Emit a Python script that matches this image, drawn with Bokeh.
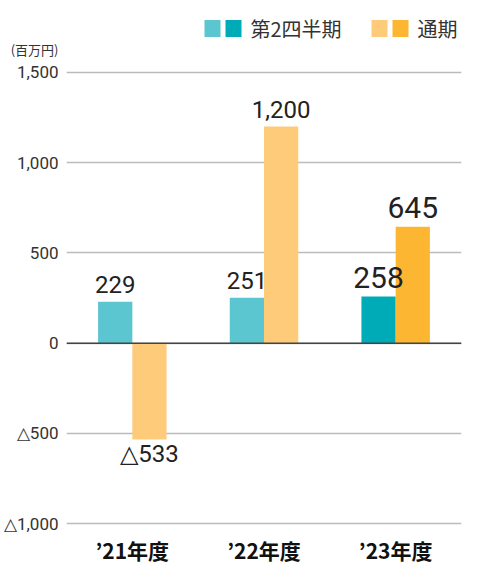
from bokeh.plotting import figure
from bokeh.layouts import column
from bokeh.models import ColumnDataSource, FactorRange, Range1d, FixedTicker, Span
from bokeh.transform import dodge
from bokeh.core.properties import value
from bokeh.embed import file_html
from bokeh.resources import INLINE

# ---- data ----
categories = ["’21年度", "’22年度", "’23年度"]
q2_values = [229, 251, 258]
full_values = [-533, 1200, 645]
series_names = ["第2四半期", "通期"]
y_ticks = [-1000, -500, 0, 500, 1000, 1500]
unit_label = "(百万円)"


def fmt(v):
    return ("△" if v < 0 else "") + f"{abs(v):,}"


# ---- styles ----
Q2_PAST, Q2_CUR = "#5BC5D0", "#00ABB8"
FY_PAST, FY_CUR = "#FDCB7A", "#FDB632"
NUM_FONT = "Roboto"
CJK_FONT = "Noto Sans CJK JP"
W = 489
HEAD_H = 60
MAIN_H = 525
BORDER_L, BORDER_R = 66, 28

n = len(categories)
last = [i == n - 1 for i in range(n)]


def offs(vals):
    out = []
    for v, l in zip(vals, last):
        half = 11.5 if l else 9
        out.append(-(8 + half) if v >= 0 else (6 + half))
    return out


src = ColumnDataSource(dict(
    cat=categories,
    q2=q2_values,
    full=full_values,
    q2_color=[Q2_CUR if l else Q2_PAST for l in last],
    full_color=[FY_CUR if l else FY_PAST for l in last],
    q2_text=[fmt(v) for v in q2_values],
    full_text=[fmt(v) for v in full_values],
    q2_off=offs(q2_values),
    full_off=offs(full_values),
    size=["30px" if l else "24px" for l in last],
))

# ---- header: legend + unit label (pixel-space decoration, x in page px) ----
h = figure(width=W, height=HEAD_H,
           x_range=Range1d(BORDER_L, W - BORDER_R), y_range=Range1d(HEAD_H, 0),
           x_axis_type=None,
           output_backend="svg", toolbar_location=None,
           min_border_left=BORDER_L, min_border_right=BORDER_R,
           min_border_top=0, min_border_bottom=0)
h.grid.visible = False
h.outline_line_color = None
h.background_fill_color = "white"
h.border_fill_color = "white"
# unit label drawn as the header's single y tick label
h.yaxis.ticker = FixedTicker(ticks=[49])
h.yaxis.major_label_overrides = {49: unit_label}
h.yaxis.axis_line_color = None
h.yaxis.major_tick_line_color = None
h.yaxis.minor_tick_line_color = None
h.yaxis.major_tick_in = 0
h.yaxis.major_tick_out = 0
h.yaxis.major_label_standoff = 8
h.yaxis.major_label_text_font = CJK_FONT
h.yaxis.major_label_text_font_size = "13px"
h.yaxis.major_label_text_color = "#333333"

legend_x = [204, 371]
legend_cols = [[Q2_PAST, Q2_CUR], [FY_PAST, FY_CUR]]
sw_x, sw_c = [], []
for x0, cols in zip(legend_x, legend_cols):
    for k, c in enumerate(cols):
        sw_x.append(x0 + 8 + k * 21)
        sw_c.append(c)
h.rect(x=sw_x, y=[28] * len(sw_x), width=16, height=17, fill_color=sw_c, line_color=None)
h.text(x=[x0 + 46 for x0 in legend_x], y=[28, 28], text=series_names,
       text_align="left", text_baseline="middle",
       text_font=value(CJK_FONT), text_font_size="20px", text_color="#333333")

# ---- main chart ----
p = figure(
    width=W, height=MAIN_H,
    x_range=FactorRange(*categories),
    y_range=Range1d(-1010, 1510),
    output_backend="svg", toolbar_location=None,
    min_border_left=BORDER_L, min_border_right=BORDER_R, min_border_top=10, min_border_bottom=60,
)
p.outline_line_color = None
p.background_fill_color = "white"
p.border_fill_color = "white"

BW = 0.26
p.vbar(x=dodge("cat", -BW / 2, range=p.x_range), top="q2", bottom=0, width=BW,
       source=src, fill_color="q2_color", line_color=None)
p.vbar(x=dodge("cat", BW / 2, range=p.x_range), top="full", bottom=0, width=BW,
       source=src, fill_color="full_color", line_color=None)

p.text(x=dodge("cat", -BW / 2, range=p.x_range), y="q2", text="q2_text", source=src,
       y_offset="q2_off", text_align="center", text_baseline="middle",
       text_font=value(NUM_FONT), text_font_size="size", text_color="#222222")
p.text(x=dodge("cat", BW / 2, range=p.x_range), y="full", text="full_text", source=src,
       y_offset="full_off", text_align="center", text_baseline="middle",
       text_font=value(NUM_FONT), text_font_size="size", text_color="#222222")

p.add_layout(Span(location=0, dimension="width", line_color="#444444", line_width=1.5))

p.xgrid.grid_line_color = None
p.ygrid.ticker = FixedTicker(ticks=y_ticks)
p.ygrid.grid_line_color = "#BBBBBB"
p.ygrid.grid_line_width = 1.5

p.yaxis.ticker = FixedTicker(ticks=y_ticks)
p.yaxis.major_label_overrides = {t: fmt(t) for t in y_ticks}
p.yaxis.axis_line_color = None
p.yaxis.major_tick_line_color = None
p.yaxis.minor_tick_line_color = None
p.yaxis.major_tick_in = 0
p.yaxis.major_tick_out = 0
p.yaxis.major_label_standoff = 8
p.yaxis.major_label_text_font = NUM_FONT
p.yaxis.major_label_text_font_size = "17px"
p.yaxis.major_label_text_color = "#333333"

p.xaxis.axis_line_color = None
p.xaxis.major_tick_line_color = None
p.xaxis.minor_tick_line_color = None
p.xaxis.major_tick_in = 0
p.xaxis.major_tick_out = 0
p.xaxis.major_label_standoff = 9
p.xaxis.major_label_text_font = CJK_FONT
p.xaxis.major_label_text_font_style = "bold"
p.xaxis.major_label_text_font_size = "21px"
p.xaxis.major_label_text_color = "#111111"

layout = column(h, p, spacing=0)
open("out.html", "w").write(file_html(layout, INLINE))
